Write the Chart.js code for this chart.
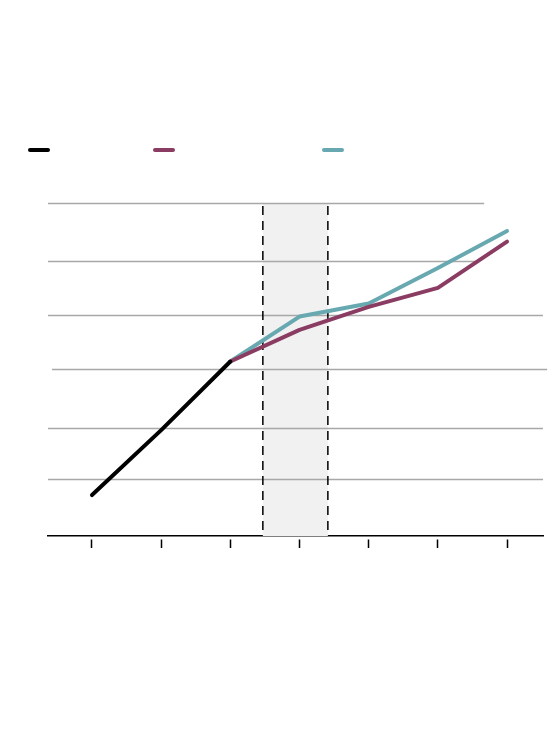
<!DOCTYPE html>
<html>
<head>
<meta charset="utf-8">
<script src="https://cdn.jsdelivr.net/npm/chart.js@4"></script>
<style>
  body { margin: 0; background: #fff; }
  #wrap { position: relative; width: 560px; height: 750px; }
  .key { position: absolute; top: 148px; width: 22px; height: 4px; border-radius: 2px; }
</style>
</head>
<body>
<div id="wrap">
  <canvas id="chart"></canvas>
  <div id="legend"></div>
</div>
<script>
// periods along the x axis (no labels shown in the source)
const periods = [0, 1, 2, 3, 4, 5, 6];
const historical = [12.3, 31.8, 52.4, null, null, null, null];
const scenarioA = [null, null, 52.4, 61.9, 68.8, 74.5, 88.4];
const scenarioB = [null, null, 52.4, 65.9, 69.8, 80.5, 91.6];
const gridValues = [100, 82.6, 66.4, 50.2, 32.4, 17.1];
const shadedPeriod = [2.47, 3.41];

const seriesColors = ['#000000', '#8b3c62', '#68a8b0'];
const legendLeft = [28, 153, 322];

// horizontal reference lines don't all span the same width in the original
const gridSpans = [[-0.636, 5.67], [-0.636, 5.57], [-0.636, 6.52], [-0.578, 6.58], [-0.636, 6.52], [-0.636, 6.52]];

function points(values) {
  return periods.map((p, i) => ({ x: p, y: values[i] })).filter(d => d.y !== null);
}

const legend = document.getElementById('legend');
seriesColors.forEach((c, i) => {
  const d = document.createElement('div');
  d.className = 'key';
  d.style.left = legendLeft[i] + 'px';
  d.style.background = c;
  legend.appendChild(d);
});

const backdrop = {
  id: 'backdrop',
  beforeDatasetsDraw(chart) {
    const { ctx, chartArea, scales } = chart;
    const x = scales.x, y = scales.y;
    ctx.save();
    // shaded period
    const bx1 = x.getPixelForValue(shadedPeriod[0]);
    const bx2 = x.getPixelForValue(shadedPeriod[1]);
    ctx.fillStyle = '#f1f1f1';
    ctx.fillRect(bx1, chartArea.top + 1, bx2 - bx1, chartArea.bottom - chartArea.top - 1);
    // grid lines
    ctx.strokeStyle = '#a8a8a8';
    ctx.lineWidth = 1.5;
    gridValues.forEach((v, i) => {
      const py = Math.round(y.getPixelForValue(v)) + 0.5;
      ctx.beginPath();
      ctx.moveTo(x.getPixelForValue(gridSpans[i][0]), py);
      ctx.lineTo(x.getPixelForValue(gridSpans[i][1]), py);
      ctx.stroke();
    });
    // dashed period edges
    ctx.strokeStyle = '#000';
    ctx.lineWidth = 1.5;
    ctx.setLineDash([9, 6]);
    [bx1, bx2].forEach(px => {
      ctx.beginPath();
      ctx.moveTo(px, chartArea.top + 3);
      ctx.lineTo(px, chartArea.bottom);
      ctx.stroke();
    });
    ctx.restore();
  }
};

const lineStyle = { borderWidth: 4, pointRadius: 0, borderCapStyle: 'round', borderJoinStyle: 'round', tension: 0, fill: false };

new Chart(document.getElementById('chart'), {
  type: 'line',
  data: {
    datasets: [
      { label: 'historical', data: points(historical), borderColor: seriesColors[0], ...lineStyle },
      { label: 'scenarioA', data: points(scenarioA), borderColor: seriesColors[1], ...lineStyle },
      { label: 'scenarioB', data: points(scenarioB), borderColor: seriesColors[2], ...lineStyle }
    ]
  },
  options: {
    responsive: true,
    maintainAspectRatio: false,
    animation: false,
    layout: { padding: { left: 48, right: 17, top: 203, bottom: 202 } },
    plugins: { legend: { display: false }, tooltip: { enabled: false } },
    scales: {
      x: {
        type: 'linear',
        min: -0.636,
        max: 6.52,
        afterBuildTicks: s => { s.ticks = periods.map(p => ({ value: p })); },
        ticks: { display: false },
        grid: { drawOnChartArea: false, drawTicks: true, tickLength: 12, tickColor: '#000', tickWidth: 1.5, tickBorderDash: [0, 3, 9] },
        border: { display: true, color: '#000', width: 1.5 }
      },
      y: {
        display: false,
        min: 0,
        max: 100
      }
    }
  },
  plugins: [backdrop]
});
</script>
</body>
</html>
